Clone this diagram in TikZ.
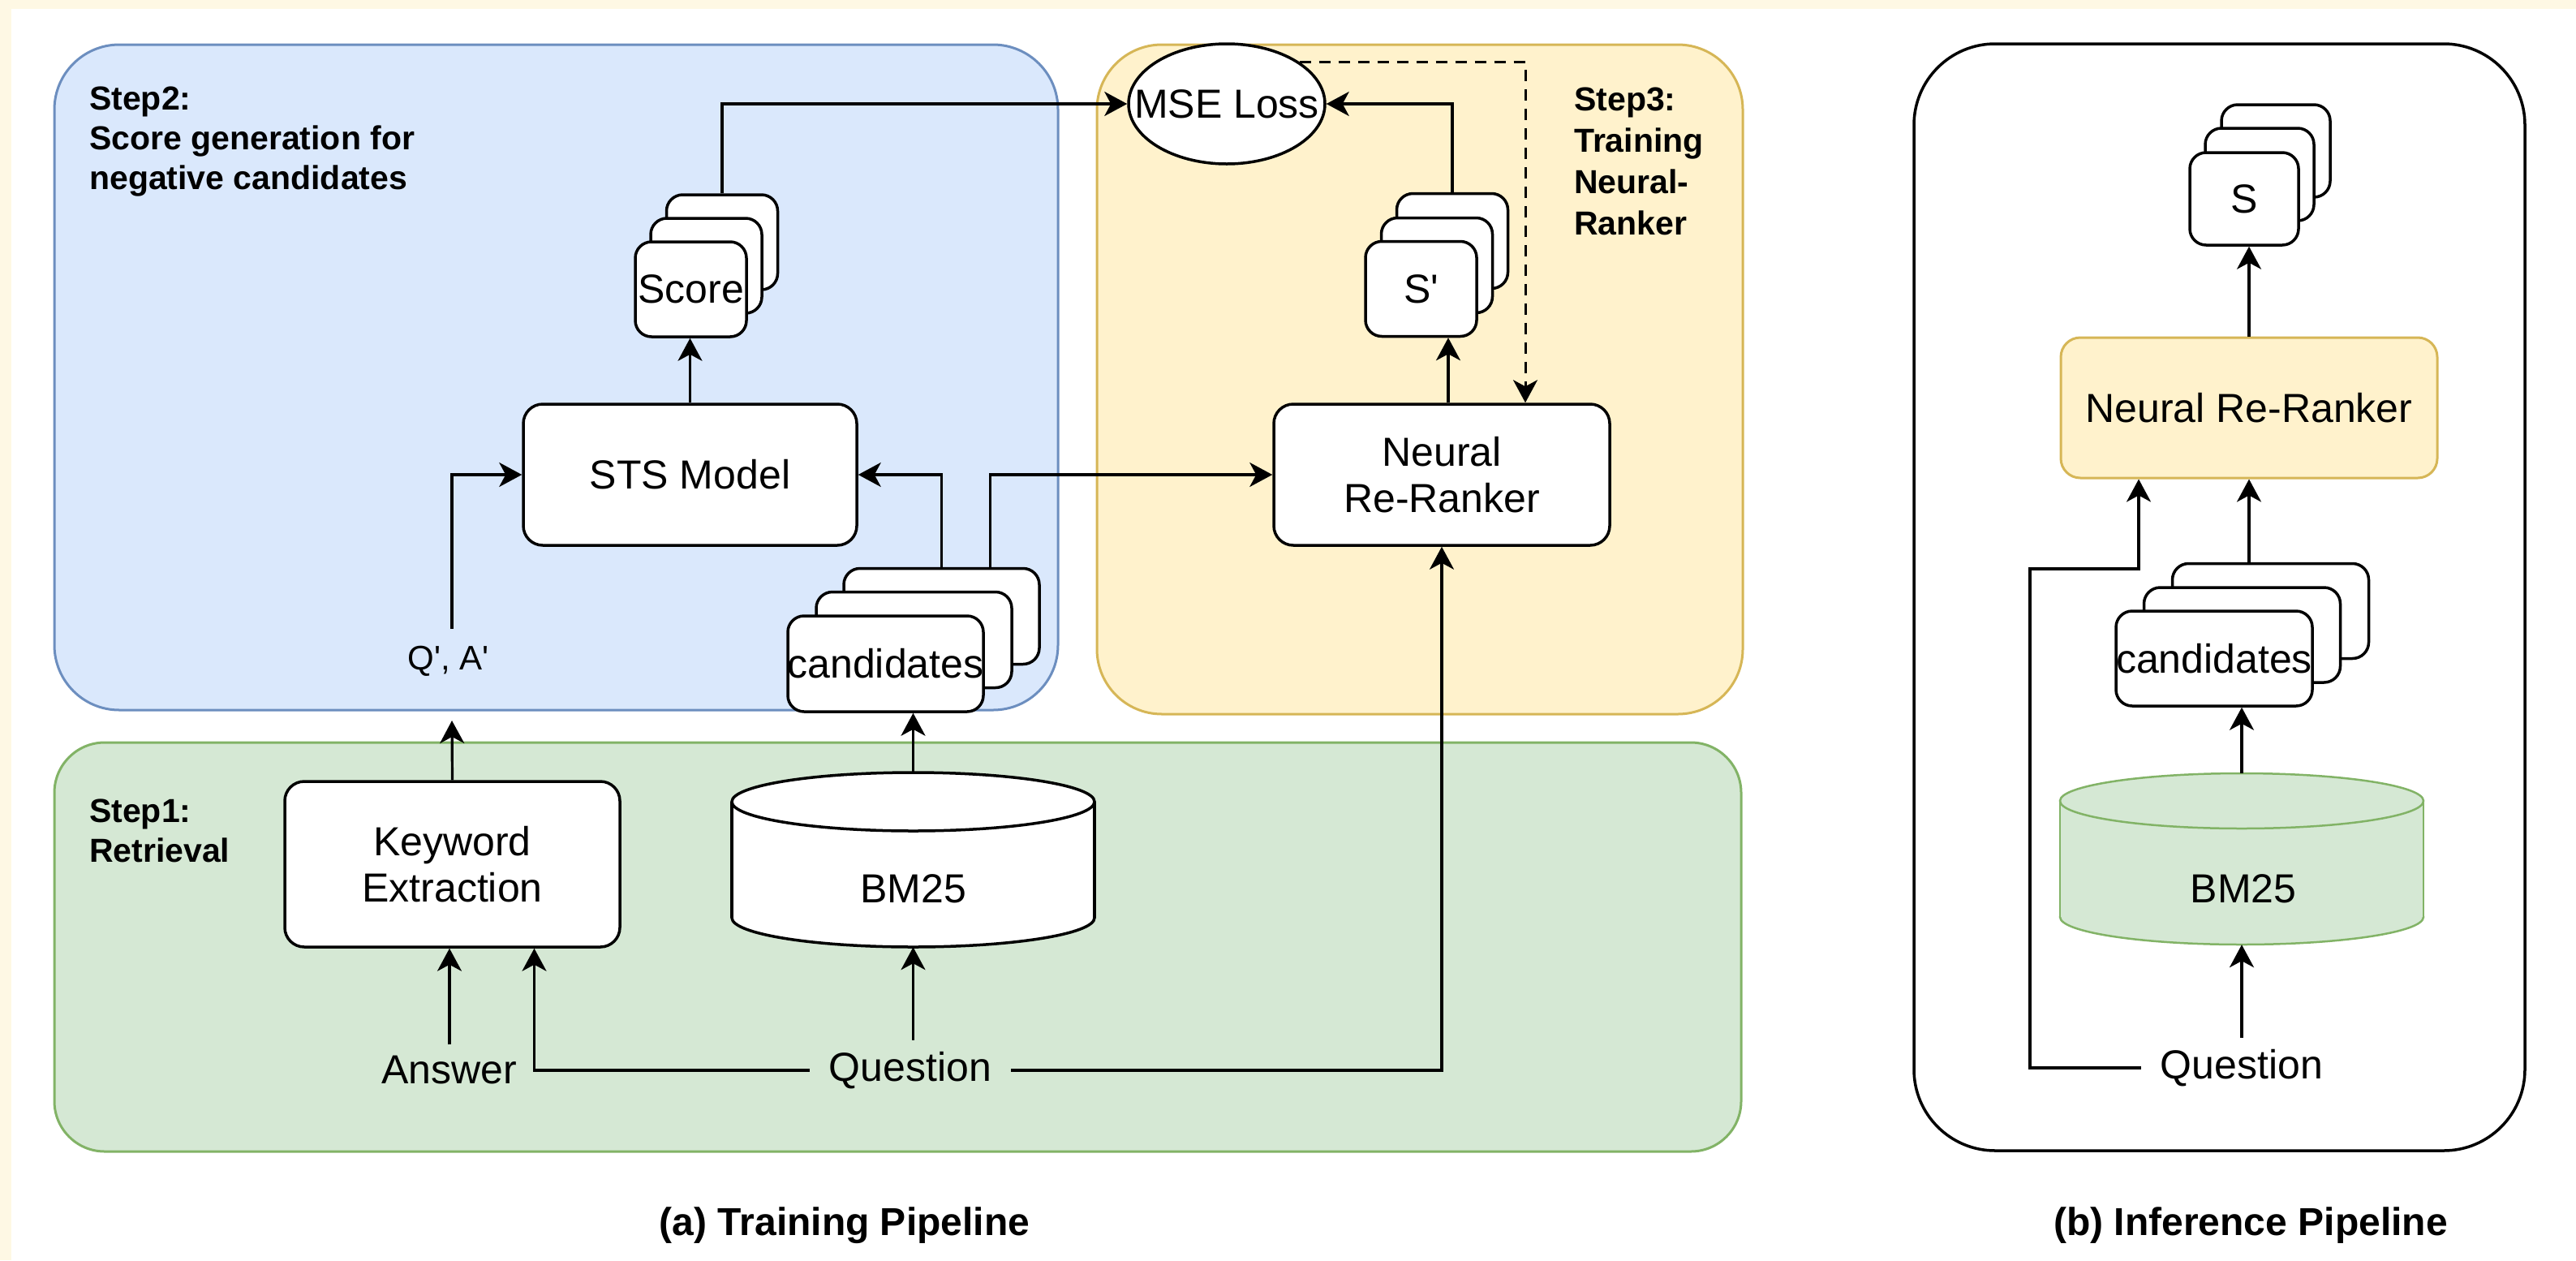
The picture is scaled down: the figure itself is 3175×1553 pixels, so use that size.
\documentclass[tikz,border=0pt]{standalone}
\usepackage{fontspec}
\newfontfamily\lsans{Liberation Sans}
\usetikzlibrary{arrows.meta,shapes.geometric}
\definecolor{bluefill}{HTML}{DAE8FC}
\definecolor{bluedraw}{HTML}{6C8EBF}
\definecolor{yelfill}{HTML}{FFF2CC}
\definecolor{yeldraw}{HTML}{D6B656}
\definecolor{grnfill}{HTML}{D5E8D4}
\definecolor{grndraw}{HTML}{82B366}
\definecolor{cream}{HTML}{FEF8E4}
\tikzset{
 fmain/.style={font=\lsans\fontsize{50}{57}\selectfont},
 box/.style={draw, line width=3.5pt, fill=white, rounded corners=24pt, inner sep=0pt, fmain, align=center},
 card/.style={draw, line width=3.5pt, fill=white, rounded corners=20pt, inner sep=0pt, fmain},
 arr/.style={line width=3.2pt, -{Stealth[length=28pt,width=30pt,inset=8pt]}},
 lbl/.style={fmain, inner xsep=24pt, inner ysep=14pt},
 steplbl/.style={font=\lsans\bfseries\fontsize{41}{49}\selectfont, align=left, inner sep=0pt, anchor=north west},
 titlelbl/.style={font=\lsans\bfseries\fontsize{48}{56}\selectfont},
 grp/.style={line width=3pt},
}
\begin{document}
\begin{tikzpicture}[x=1pt,y=-1pt]
\useasboundingbox (0,0) rectangle (3175,1553);
% background
\fill[cream] (0,0) rectangle (3175,1553);
\fill[white] (14,11) rectangle (3175,1553);

% group boxes
\draw[grp, fill=bluefill, draw=bluedraw, rounded corners=80pt] (67,55) rectangle (1304,875);
\draw[grp, fill=yelfill, draw=yeldraw, rounded corners=80pt] (1352,55) rectangle (2148,880);
\draw[grp, fill=grnfill, draw=grndraw, rounded corners=62pt] (67,915) rectangle (2146,1419);
\draw[line width=3.5pt, rounded corners=100pt] (2359,54) rectangle (3112,1418);

% step labels
\node[steplbl] (step2) at (110,107) {Step2:\\Score generation for\\negative candidates};
\node[steplbl, font=\lsans\bfseries\fontsize{41}{51}\selectfont] (step3) at (1940,108) {Step3:\\Training\\Neural-\\Ranker};
\node[steplbl] (step1) at (110,985) {Step1:\\Retrieval};

% ---- training pipeline ----
\node[draw, ellipse, line width=3.5pt, fill=white, minimum width=242pt, minimum height=148pt, inner sep=0pt, fmain] (mse) at (1512,128) {\makebox[0pt]{MSE Loss}};

\node[card, minimum width=137pt, minimum height=117pt] (sc3) at (890,298.5) {};
\node[card, minimum width=137pt, minimum height=117pt] (sc2) at (870.5,327.5) {};
\node[card, minimum width=137pt, minimum height=117pt] (sc1) at (851.5,356.5) {Score};

\node[card, minimum width=137pt, minimum height=117pt] (sp3) at (1790,297) {};
\node[card, minimum width=137pt, minimum height=117pt] (sp2) at (1771,327) {};
\node[card, minimum width=137pt, minimum height=117pt] (sp1) at (1751.5,356) {S'};

\node[box, minimum width=411pt, minimum height=174pt] (sts) at (850.5,585) {STS Model};
\node[box, minimum width=414pt, minimum height=174pt] (nrr) at (1777,585) {Neural\\Re-Ranker};

\node[card, minimum width=241pt, minimum height=118pt] (c3) at (1160.5,759.5) {};
\node[card, minimum width=241pt, minimum height=118pt] (c2) at (1126.5,788.5) {};
\node[card, minimum width=241pt, minimum height=118pt] (c1) at (1091.5,818) {\makebox[0pt]{candidates}};

\node[font=\lsans\fontsize{42}{50}\selectfont, inner sep=0pt] (qa) at (553,815) {Q', A'};
\coordinate (qaTop) at (557,775);
\coordinate (qaBot) at (557,888);

\node[box, minimum width=413pt, minimum height=204pt] (kw) at (557.5,1065) {Keyword\\Extraction};

% BM25 cylinder (training)
\node[minimum width=447pt, minimum height=215pt, inner sep=0pt] (bm) at (1125.5,1059.5) {};
\draw[line width=3.5pt, fill=white] (1125.5,1131) ellipse [x radius=223.5, y radius=36];
\fill[white] (902,988) rectangle (1349,1131);
\draw[line width=3.5pt] (902,988) -- (902,1131) (1349,988) -- (1349,1131);
\draw[line width=3.5pt, fill=white] (1125.5,988) ellipse [x radius=223.5, y radius=36];
\node[fmain] (bmt) at (1125.5,1095) {BM25};

\node[lbl] (ans) at (554,1319) {Answer};
\node[lbl] (q) at (1122,1319) {Question};

\node[titlelbl] (tA) at (1041,1510) {(a) Training Pipeline};

% connectors (training)
\draw[arr] (sc3.north) |- (mse.west);
\draw[arr] (sp3.north) |- (mse.east);
\draw[arr, dash pattern=on 14pt off 10pt, line width=3pt] (mse.30) -| ([xshift=103pt]nrr.north);
\draw[arr] (sts.north) -- (sts.north |- sc1.south);
\draw[arr] ([xshift=8pt]nrr.north) -- ([xshift=8pt]nrr.north |- sp1.south);
\draw[arr] (c3.north) |- (sts.east);
\draw[arr] ([xshift=60pt]c3.north) |- (nrr.west);
\draw[arr] (bm.north) -- (bm.north |- c1.south);
\draw[arr] (kw.north) -- (qaBot);
\draw[arr] (qaTop) |- (sts.west);
\draw[arr] (ans.north) -- (ans.north |- kw.south);
\draw[arr] (bm.south |- q.north) -- (bm.south);
\draw[arr] (q.west) -| ([xshift=101pt]kw.south);
\draw[arr] (q.east) -| (nrr.south);

% ---- inference pipeline ----
\node[card, minimum width=134pt, minimum height=114pt] (s3) at (2805,186) {};
\node[card, minimum width=134pt, minimum height=114pt] (s2) at (2785,215) {};
\node[card, minimum width=134pt, minimum height=114pt] (s1) at (2766,245) {S};

\node[box, fill=yelfill, draw=yeldraw, line width=3pt, minimum width=464pt, minimum height=173pt] (nrr2) at (2772,502.5) {Neural Re-Ranker};

\node[card, minimum width=242pt, minimum height=117pt] (d3) at (2798.5,753) {};
\node[card, minimum width=242pt, minimum height=117pt] (d2) at (2763.5,782.5) {};
\node[card, minimum width=242pt, minimum height=117pt] (d1) at (2729,811.5) {\makebox[0pt]{candidates}};

% BM25 cylinder (inference)
\node[minimum width=448pt, minimum height=211pt, inner sep=0pt] (bm2) at (2763,1058.5) {};
\draw[line width=2.5pt, fill=grnfill, draw=grndraw] (2763,1130) ellipse [x radius=224, y radius=34];
\fill[grnfill] (2539,987) rectangle (2987,1130);
\draw[line width=2.5pt, draw=grndraw] (2539,987) -- (2539,1130) (2987,987) -- (2987,1130);
\draw[line width=2.5pt, fill=grnfill, draw=grndraw] (2763,987) ellipse [x radius=224, y radius=34];
\node[fmain] (bm2t) at (2765,1095) {BM25};

\node[lbl] (q2) at (2763,1316) {Question};
\coordinate (qbend) at (2502,701);

\node[titlelbl] (tB) at (2774,1510) {(b) Inference Pipeline};

% connectors (inference)
\draw[arr] (nrr2.north) -- (nrr2.north |- s1.south);
\draw[arr] (nrr2.south |- d3.north) -- (nrr2.south);
\draw[arr] (bm2.north) -- (bm2.north |- d1.south);
\draw[arr] (bm2.south |- q2.north) -- (bm2.south);
\draw[arr] (q2.west) -| (qbend) -| ([xshift=-136pt]nrr2.south);
\end{tikzpicture}
\end{document}
